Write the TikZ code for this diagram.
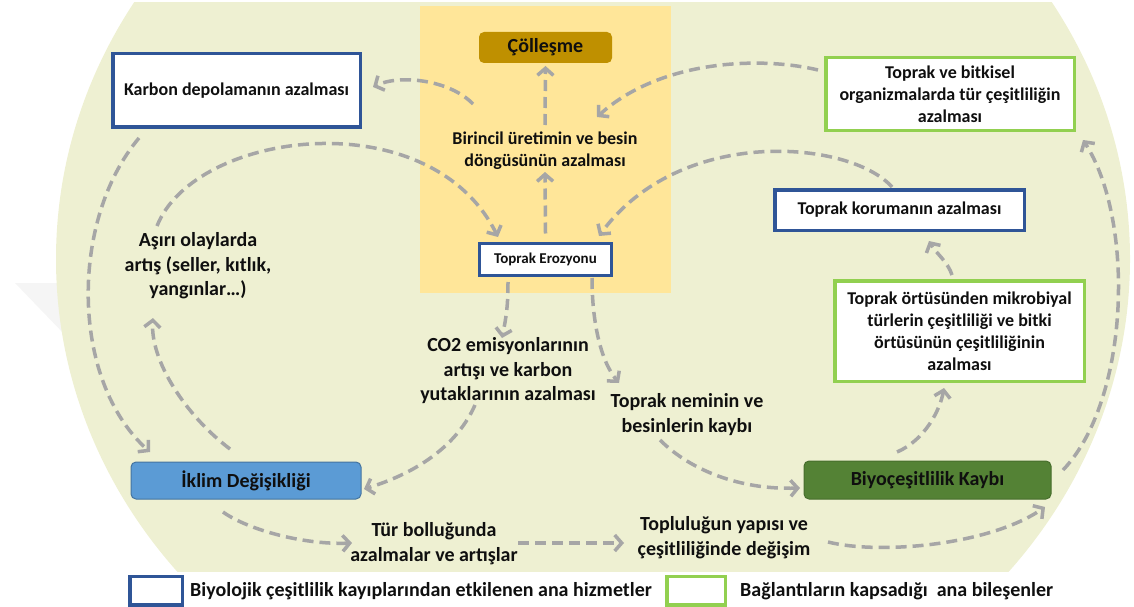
\documentclass[tikz,border=0pt]{standalone}
\usepackage{fontspec}
\setmainfont{Carlito}
\usetikzlibrary{arrows.meta}

\definecolor{ground}{RGB}{238,240,210}
\definecolor{desert}{RGB}{255,230,153}
\definecolor{gold}{RGB}{191,144,0}
\definecolor{leaf}{RGB}{84,130,53}
\definecolor{sky}{RGB}{91,155,213}
\definecolor{svcblue}{RGB}{47,85,151}
\definecolor{compgreen}{RGB}{146,208,80}
\definecolor{flowgrey}{RGB}{166,166,166}
\definecolor{ink}{RGB}{15,15,15}
\definecolor{wmgrey}{RGB}{245,245,245}

% text sizes
\newcommand\txtA{\fontsize{18}{22}\selectfont\bfseries}
\newcommand\txtB{\fontsize{20}{24.5}\selectfont\bfseries}
\newcommand\txtC{\fontsize{20}{24}\selectfont\bfseries}
\newcommand\txtD{\fontsize{15}{18}\selectfont\bfseries}

\begin{document}
\begin{tikzpicture}[x=1pt,y=-1pt,
  every node/.style={text=ink},
  svcbox/.style={draw=svcblue, line width=3.5pt, fill=white, align=center, inner sep=0pt},
  compbox/.style={draw=compgreen, line width=3.5pt, fill=white, align=center, inner sep=0pt},
  keybox/.style={rounded corners=5pt, inner sep=0pt, align=center},
  lbl/.style={align=center, inner sep=0pt},
  flow/.style={draw=flowgrey, line width=3.5pt, dash pattern=on 11pt off 6pt,
    -{Straight Barb[length=7pt,width=16pt]}},
]
\useasboundingbox (0,0) rectangle (1134,607);

% faint mark behind the ground
\fill[wmgrey] (15,283) -- (66,283) -- (66,336) -- cycle;

% ground: a large ellipse cut flat at top and bottom
\begin{scope}
  \clip (0,3) rectangle (1134,571);
  \fill[ground] (593,259) ellipse [x radius=537pt, y radius=494pt];
\end{scope}

% desertification zone
\node[fill=desert, minimum width=251, minimum height=287, inner sep=0pt] (zone) at (545.5,149.5) {};

% boxes
\node[keybox, fill=gold, minimum width=133, minimum height=31, font=\txtC] (colles) at (545.5,47.5) {Çölleşme};
\node[lbl, font=\txtA] (birincil) at (545,151) {Birincil üretimin ve besin\\döngüsünün azalması};
\node[svcbox, line width=3pt, minimum width=132, minimum height=32, font=\txtD] (erozyon) at (545.5,259.5) {Toprak Erozyonu};

\node[svcbox, minimum width=247.5, minimum height=73.5, font=\txtA] (karbon) at (236.5,90.5) {Karbon depolamanın azalması};
\node[compbox, minimum width=248.5, minimum height=72.5, font=\txtA] (bitkisel) at (950,94) {Toprak ve bitkisel\\organizmalarda tür çeşitliliğin\\azalması};
\node[svcbox, minimum width=249.5, minimum height=40.5, font=\txtA] (koruma) at (899.5,210) {Toprak korumanın azalması};
\node[compbox, minimum width=249.5, minimum height=100.5, font=\txtA] (ortu) at (959.5,331) {Toprak örtüsünden mikrobiyal\\türlerin çeşitliliği ve bitki\\örtüsünün çeşitliliğinin\\azalması};

\node[keybox, fill=leaf, draw=leaf!85!black, line width=1pt, minimum width=247, minimum height=38, font=\txtC] (biyo) at (927.5,480) {Biyoçeşitlilik Kaybı};
\node[keybox, fill=sky, draw=sky!75!black, line width=1pt, minimum width=230, minimum height=37, font=\txtC] (iklim) at (246,480.5) {İklim Değişikliği};

% free labels
\node[lbl, font=\txtB] (asiri) at (198,266) {Aşırı olaylarda\\artış (seller, kıtlık,\\yangınlar…)};
\node[lbl, font=\txtB] (co2) at (508,371) {CO2 emisyonlarının\\artışı ve karbon\\yutaklarının azalması};
\node[lbl, font=\txtB] (nem) at (687,414.5) {Toprak neminin ve\\besinlerin kaybı};
\node[lbl, font=\txtB] (tur) at (434,543.5) {Tür bolluğunda\\azalmalar ve artışlar};
\node[lbl, font=\txtB] (toplu) at (724,537.5) {Topluluğun yapısı ve\\çeşitliliğinde değişim};

% connectors
\draw[flow] ([shift={(-72,-47)}]birincil.center) .. controls +(-23,-24) and +(27,-13) .. ([shift={(136.5,-3.5)}]karbon.center);
\draw[flow] ([shift={(0,-26)}]birincil.center) -- ([shift={(0,18.5)}]colles.center);
\draw[flow] ([shift={(0,-26)}]erozyon.center) -- ([shift={(0,21)}]birincil.center);
\draw[flow] ([shift={(-132,-24)}]bitkisel.center) .. controls +(-58,-14) and +(63,-57) .. ([shift={(52,-34)}]birincil.center);
\draw[flow] ([shift={(-7.5,-23)}]koruma.center) .. controls +(-42,-47) and +(81,-111) .. ([shift={(53.5,-23.5)}]erozyon.center);
\draw[flow] ([shift={(-41,-40)}]asiri.center) .. controls +(38,-96) and +(-68,-137) .. ([shift={(-47.5,-22.5)}]erozyon.center);
\draw[flow] ([shift={(-97.5,47.5)}]karbon.center) .. controls +(-69,82) and +(-80,-72) .. ([shift={(-96,-28.5)}]iklim.center);
\draw[flow] ([shift={(-16,-31.5)}]iklim.center) .. controls +(-45,-34) and +(-3,42) .. ([shift={(-45,52)}]asiri.center);
\draw[flow] ([shift={(-33,34)}]co2.center) .. controls +(-20,45) and +(46,-14) .. ([shift={(118,8.5)}]iklim.center);
\draw[flow] ([shift={(-37.5,22.5)}]erozyon.center) .. controls +(0,25) and +(4,-20) .. ([shift={(-6,-33)}]co2.center);
\draw[flow] ([shift={(46.5,18.5)}]erozyon.center) .. controls +(0,42) and +(-19,-23) .. ([shift={(-68,-31.5)}]nem.center);
\draw[flow] ([shift={(-27,25.5)}]nem.center) .. controls +(30,30) and +(-60,2) .. ([shift={(-127.5,8)}]biyo.center);
\draw[flow] ([shift={(-30.5,-28)}]biyo.center) .. controls +(28,-12) and +(-4,22) .. ([shift={(-15.5,57)}]ortu.center);
\draw[flow] ([shift={(-7.5,-56)}]ortu.center) .. controls +(-4,-13) and +(6,11) .. ([shift={(29.5,31)}]koruma.center);
\draw[flow] ([shift={(135.5,-10)}]biyo.center) .. controls +(67,-70) and +(52,80) .. ([shift={(133,46)}]bitkisel.center);
\draw[flow] ([shift={(-23,31.5)}]iklim.center) .. controls +(22,16) and +(-52,2) .. ([shift={(-82,-0.5)}]tur.center);
\draw[flow] ([shift={(84,-0.5)}]tur.center) -- ([shift={(-100,5.5)}]toplu.center);
\draw[flow] ([shift={(104,4.5)}]toplu.center) .. controls +(52,13) and +(-55,38) .. ([shift={(117.5,27)}]biyo.center);

% key
\node[svcbox, minimum width=52.5, minimum height=28.5] (keysvc) at (156,590.5) {};
\node[lbl, anchor=west, font=\txtC] (keysvctxt) at (190,591) {Biyolojik çeşitlilik kayıplarından etkilenen ana hizmetler};
\node[compbox, minimum width=58.5, minimum height=28.5] (keycomp) at (696,590.5) {};
\node[lbl, anchor=west, font=\txtC] (keycomptxt) at (740,591) {Bağlantıların kapsadığı\ \ ana bileşenler};
\end{tikzpicture}
\end{document}
